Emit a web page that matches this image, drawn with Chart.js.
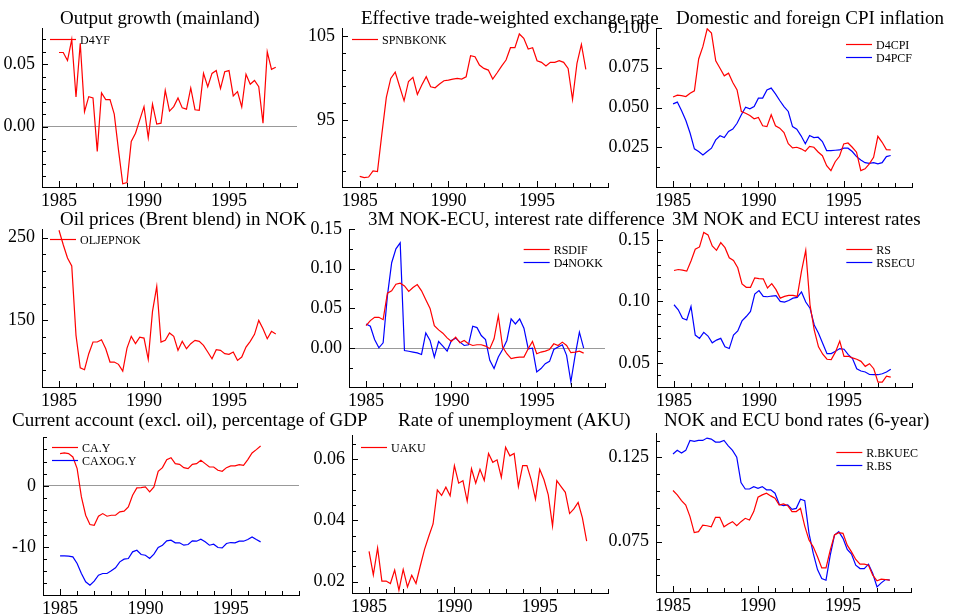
<!DOCTYPE html>
<html>
<head>
<meta charset="utf-8">
<script src="https://cdn.jsdelivr.net/npm/chart.js@4.4.1/dist/chart.umd.min.js"></script>
<style>
  html, body { margin: 0; padding: 0; background: #fff; }
  #wrap { position: relative; width: 954px; height: 616px; overflow: hidden; }
  #wrap canvas { position: absolute; left: 0; top: 0; }
</style>
</head>
<body>
<div id="wrap"></div>
<script>
// quarterly dates, 1985Q1 .. 1997Q4
const quarters = [1985, 1985.25, 1985.5, 1985.75, 1986, 1986.25, 1986.5, 1986.75,
  1987, 1987.25, 1987.5, 1987.75, 1988, 1988.25, 1988.5, 1988.75,
  1989, 1989.25, 1989.5, 1989.75, 1990, 1990.25, 1990.5, 1990.75,
  1991, 1991.25, 1991.5, 1991.75, 1992, 1992.25, 1992.5, 1992.75,
  1993, 1993.25, 1993.5, 1993.75, 1994, 1994.25, 1994.5, 1994.75,
  1995, 1995.25, 1995.5, 1995.75, 1996, 1996.25, 1996.5, 1996.75,
  1997, 1997.25, 1997.5, 1997.75];
const yearTicks = [1984, 1985, 1986, 1987, 1988, 1989, 1990, 1991, 1992, 1993, 1994, 1995, 1996, 1997, 1998, 1999];
const yearLabels = [1985, 1990, 1995];

// series
const d4yf = [0.0595, 0.0595, 0.053, 0.070, 0.0238, 0.067, 0.012, 0.024, 0.023, -0.020,
  0.027, 0.0216, 0.0216, 0.010, -0.019, -0.046, -0.045, -0.012, -0.0054, 0.0054,
  0.016, -0.009, 0.018, 0.002, 0.0027, 0.029, 0.0124, 0.016, 0.023, 0.015,
  0.014, 0.031, 0.0135, 0.013, 0.0427, 0.032, 0.0427, 0.045, 0.0305, 0.044,
  0.045, 0.0246, 0.028, 0.0157, 0.042, 0.034, 0.037, 0.032, 0.0027, 0.060,
  0.046, 0.0476];
const spnbkonk = [88.33, 88.17, 88.25, 88.97, 88.9, 93.4, 97.7, 99.96, 100.7, 99.0,
  97.3, 99.6, 100.08, 98.05, 99.17, 100.16, 98.97, 98.85, 99.29, 99.68,
  99.76, 99.88, 99.96, 99.88, 100.16, 102.66, 102.54, 101.55, 101.15, 100.95,
  99.88, 100.63, 101.43, 102.14, 103.61, 103.61, 105.24, 104.72, 103.45, 103.61,
  102.06, 101.87, 101.43, 101.87, 101.87, 102.06, 101.87, 101.15, 97.46, 101.75,
  104.0, 101.03];
const d4cpi = [0.0566, 0.0578, 0.0575, 0.0569, 0.059, 0.0605, 0.0805, 0.0884, 0.0995, 0.0968,
  0.0793, 0.0747, 0.0699, 0.0716, 0.0657, 0.0611, 0.0475, 0.0464, 0.045, 0.0429,
  0.0437, 0.0385, 0.038, 0.0454, 0.0385, 0.037, 0.0343, 0.0272, 0.0246, 0.025,
  0.024, 0.0225, 0.0256, 0.025, 0.022, 0.0197, 0.0134, 0.0103, 0.0159, 0.0193,
  0.0271, 0.0277, 0.025, 0.0219, 0.0103, 0.0114, 0.0145, 0.0187, 0.0319, 0.0281,
  0.0235, 0.0233];
const d4pcf = [0.0523, 0.0534, 0.0479, 0.0418, 0.0338, 0.024, 0.0223, 0.0202, 0.0223, 0.0244,
  0.0296, 0.0322, 0.0311, 0.0349, 0.0364, 0.0401, 0.0454, 0.0502, 0.0492, 0.0506,
  0.0559, 0.0559, 0.0611, 0.0622, 0.0586, 0.0544, 0.0506, 0.0475, 0.038, 0.0364,
  0.0322, 0.0272, 0.0324, 0.0311, 0.0313, 0.0286, 0.0229, 0.0229, 0.0231, 0.0233,
  0.0244, 0.0244, 0.0223, 0.0191, 0.017, 0.0153, 0.0149, 0.0153, 0.0145, 0.0153,
  0.0191, 0.0198];
const oljepnok = [259, 241.5, 225.4, 215.7, 131.9, 92.7, 90.3, 109.7, 123.8, 123.8,
  126.6, 115.7, 99.6, 99.6, 96.8, 88.7, 116.5, 130.6, 121.8, 129.8,
  128.6, 102.8, 160.9, 191.1, 123.8, 125.8, 134.7, 130.6, 113.7, 124.6,
  115.7, 121.8, 125.8, 124.6, 119.8, 111.7, 103.6, 114.5, 113.7, 109.7,
  108.9, 111.7, 101.6, 105.6, 117.7, 124.6, 133.1, 150, 139.9, 127.8,
  136.7, 133.5];
const rsdif = [0.0283, 0.0346, 0.0388, 0.0388, 0.0358, 0.0692, 0.0721, 0.0804, 0.0817, 0.0783,
  0.0713, 0.0763, 0.08, 0.0721, 0.0608, 0.05, 0.0283, 0.0229, 0.0188, 0.0129,
  0.0083, 0.0138, 0.0067, 0.0096, 0.0054, 0.0033, 0.0042, 0.0042, 0.0025, -0.0008,
  0.0117, 0.0408, 0.0013, -0.0071, -0.0133, -0.012, -0.0113, -0.0113, -0.0008, 0.0083,
  -0.0071, -0.005, -0.0038, -0.0017, 0.0054, 0.0033, 0.0075, 0.0033, -0.0058, -0.005,
  -0.0038, -0.0063];
const d4nokk = [0.0304, 0.0275, 0.0108, 0.0004, 0.0067, 0.0658, 0.1075, 0.125, 0.1325, -0.003,
  -0.004, -0.005, -0.006, -0.008, 0.0192, 0.0096, -0.0113, 0.0083, 0.0025, -0.0038,
  0.0096, 0.0125, 0.0075, 0.0033, 0.0042, 0.0275, 0.0258, 0.0158, 0.0108, -0.0154,
  -0.0258, -0.0113, -0.0017, 0.0096, 0.0367, 0.0304, 0.0367, 0.025, -0.0008, 0,
  -0.03, -0.0258, -0.0196, -0.0167, -0.0017, 0.0013, 0.0042, -0.0092, -0.0425, -0.0092,
  0.02, 0];
const rs = [0.1252, 0.126, 0.1255, 0.1247, 0.1329, 0.1425, 0.1444, 0.1562, 0.1542, 0.1452,
  0.1416, 0.1479, 0.1438, 0.1356, 0.1334, 0.1274, 0.1142, 0.1115, 0.1115, 0.1192,
  0.1186, 0.1184, 0.111, 0.1145, 0.1096, 0.1027, 0.1041, 0.1049, 0.1049, 0.1041,
  0.1247, 0.1416, 0.0973, 0.0767, 0.063, 0.057, 0.0529, 0.0526, 0.0589, 0.0677,
  0.0553, 0.0553, 0.054, 0.0529, 0.0512, 0.0471, 0.0493, 0.0452, 0.0342, 0.0342,
  0.0392, 0.0384];
const rsecu = [0.0973, 0.0932, 0.0863, 0.0849, 0.0959, 0.0726, 0.0699, 0.0748, 0.0718, 0.0663,
  0.0685, 0.0699, 0.063, 0.0616, 0.0726, 0.0759, 0.0841, 0.0877, 0.0918, 0.106,
  0.1088, 0.1041, 0.1038, 0.1044, 0.1047, 0.1, 0.0995, 0.1008, 0.1027, 0.1033,
  0.1077, 0.0995, 0.0945, 0.0808, 0.074, 0.0658, 0.0575, 0.0575, 0.0595, 0.0616,
  0.0611, 0.0567, 0.0534, 0.0452, 0.0433, 0.0425, 0.0405, 0.0403, 0.0403, 0.0411,
  0.0425, 0.0447];
const cay = [5.3, 5.41, 5.3, 4.75, 2.84, -1.8, -4.81, -6.34, -6.45, -4.97,
  -4.54, -4.97, -4.81, -4.81, -4.26, -4.15, -3.44, -1.53, -0.33, -0.27,
  -0.16, -0.98, -0.16, 2.4, 3.0, 4.32, 4.64, 3.66, 3.55, 3.0,
  2.84, 3.55, 3.66, 4.2, 3.66, 3.11, 3.11, 2.57, 2.4, 3.0,
  3.28, 3.28, 3.5, 3.39, 4.32, 5.41, 5.96, 6.56];
const caxogy = [-11.48, -11.48, -11.53, -11.64, -12.73, -14.37, -15.74, -16.28, -15.63, -14.64,
  -14.37, -14.37, -13.93, -13.44, -12.46, -12.02, -11.91, -10.82, -10.55, -11.26,
  -11.37, -11.91, -11.2, -10.11, -9.73, -9.02, -8.91, -9.34, -9.34, -9.73,
  -9.62, -9.02, -9.07, -8.74, -9.18, -9.73, -9.56, -10.11, -10.16, -9.45,
  -9.29, -9.34, -9.07, -9.07, -8.8, -8.36, -8.8, -9.18];
const uaku = [0.0299, 0.0222, 0.031, 0.0202, 0.0202, 0.0194, 0.0238, 0.0172, 0.024, 0.0183,
  0.0221, 0.0194, 0.0251, 0.0305, 0.0348, 0.0388, 0.0499, 0.0481, 0.0508, 0.048,
  0.0578, 0.0521, 0.0529, 0.0462, 0.0568, 0.0521, 0.0566, 0.053, 0.0618, 0.0589,
  0.0597, 0.054, 0.0638, 0.061, 0.0618, 0.051, 0.0578, 0.0578, 0.0532, 0.0469,
  0.0566, 0.0532, 0.0483, 0.0381, 0.0529, 0.051, 0.0491, 0.0422, 0.0437, 0.0458,
  0.0408, 0.0332];
const rbkuec = [0.1054, 0.1028, 0.0994, 0.0968, 0.0899, 0.0804, 0.081, 0.0849, 0.0845, 0.0839,
  0.0895, 0.0895, 0.0839, 0.0855, 0.0869, 0.0845, 0.0869, 0.0889, 0.0879, 0.0929,
  0.1014, 0.1028, 0.1038, 0.1022, 0.1008, 0.0968, 0.0974, 0.0964, 0.0929, 0.0929,
  0.0948, 0.0843, 0.076, 0.072, 0.0661, 0.0595, 0.0595, 0.07, 0.079, 0.0804,
  0.08, 0.073, 0.069, 0.0645, 0.0617, 0.0617, 0.0611, 0.0552, 0.0518, 0.0528,
  0.0526, 0.0522];
const rbs = [0.127, 0.1292, 0.1276, 0.1292, 0.1351, 0.1345, 0.1351, 0.1351, 0.1365, 0.1359,
  0.1341, 0.1341, 0.1351, 0.1319, 0.1292, 0.1252, 0.1101, 0.1063, 0.1063, 0.1077,
  0.1067, 0.1077, 0.1058, 0.1058, 0.1038, 0.0972, 0.0964, 0.0968, 0.0942, 0.0948,
  0.1002, 0.0994, 0.08, 0.0681, 0.0585, 0.0532, 0.0522, 0.0671, 0.079, 0.081,
  0.077, 0.0704, 0.0677, 0.0611, 0.0591, 0.0591, 0.0617, 0.0562, 0.0482, 0.0506,
  0.0526, 0.0522];

// y tick positions (all marks) and the labelled ones
const yTicks1 = [-0.04, -0.03, -0.02, -0.01, 0, 0.01, 0.02, 0.03, 0.04, 0.05, 0.06, 0.07];
const yMajor1 = [0, 0.05];
const yTicks2 = [89, 91, 93, 95, 97, 99, 101, 103, 105];
const yMajor2 = [95, 105];
const yTicks3 = [0.0125, 0.025, 0.0375, 0.05, 0.0625, 0.075, 0.0875, 0.1];
const yMajor3 = [0.025, 0.05, 0.075, 0.1];
const yTicks4 = [90, 110, 130, 150, 170, 190, 210, 230, 250];
const yMajor4 = [150, 250];
const yTicks5 = [-0.025, 0, 0.025, 0.05, 0.075, 0.1, 0.125, 0.15];
const yMajor5 = [0, 0.05, 0.1, 0.15];
const yTicks6 = [0.04, 0.05, 0.06, 0.07, 0.08, 0.09, 0.1, 0.11, 0.12, 0.13, 0.14, 0.15];
const yMajor6 = [0.05, 0.1, 0.15];
const yTicks7 = [-16, -14, -12, -10, -8, -6, -4, -2, 0, 2, 4, 6, 8];
const yMajor7 = [-10, 0];
const yTicks8 = [0.02, 0.025, 0.03, 0.035, 0.04, 0.045, 0.05, 0.055, 0.06, 0.065];
const yMajor8 = [0.02, 0.04, 0.06];
const yTicks9 = [0.055, 0.065, 0.075, 0.085, 0.095, 0.105, 0.115, 0.125, 0.135];
const yMajor9 = [0.075, 0.125];

const RED = '#ff0000', BLUE = '#0000ff';
const SERIF = '"Liberation Serif", "Times New Roman", serif';
const CW = 954, CH = 660;   // canvases are taller than the page so bottom labels are not clipped
Chart.defaults.font.family = SERIF;
Chart.defaults.color = '#000';

// inward tick marks, panel title and in-plot legend
const deco = {
  id: 'deco',
  afterDraw(chart, args, o) {
    const ctx = chart.ctx, a = chart.chartArea;
    const xs = chart.scales.x, ys = chart.scales.y;
    ctx.save();
    ctx.strokeStyle = '#000';
    ctx.lineWidth = 1;
    ctx.beginPath();
    xs.ticks.forEach(t => {
      const px = Math.round(xs.getPixelForValue(t.value)) + 0.5;
      const len = t.label ? 6 : 4;
      ctx.moveTo(px, a.bottom);
      ctx.lineTo(px, a.bottom - len);
    });
    ys.ticks.forEach(t => {
      const py = Math.round(ys.getPixelForValue(t.value)) + 0.5;
      const len = t.label ? 6 : 4;
      ctx.moveTo(a.left, py);
      ctx.lineTo(a.left + len, py);
    });
    ctx.stroke();

    ctx.fillStyle = '#000';
    ctx.textAlign = 'left';
    ctx.textBaseline = 'middle';
    ctx.font = '19px ' + SERIF;
    ctx.fillText(o.title, o.tx, o.ty);

    ctx.font = '12px ' + SERIF;
    const ds = chart.data.datasets;
    const tw = Math.max(...ds.map(d => ctx.measureText(d.label).width));
    const x0 = o.side === 'right' ? a.right + o.dx - tw - 30 : a.left + o.dx;
    ds.forEach((d, i) => {
      const y = Math.round(a.top + o.dy + i * 13) + 0.5;
      ctx.strokeStyle = d.borderColor;
      ctx.lineWidth = 1.2;
      ctx.beginPath();
      ctx.moveTo(x0, y);
      ctx.lineTo(x0 + 26, y);
      ctx.stroke();
      ctx.fillText(d.label, x0 + 30, y + 1);
    });
    ctx.restore();
  }
};

function near(v, list) {
  return list.some(m => Math.abs(m - v) < 1e-9);
}

function makePanel(p) {
  const cv = document.createElement('canvas');
  cv.width = CW;
  cv.height = CH;
  document.getElementById('wrap').appendChild(cv);
  const [l, t, r, b] = p.box;
  return new Chart(cv, {
    type: 'line',
    data: {
      labels: quarters,
      datasets: p.series.map(s => ({
        label: s.label, data: s.data, borderColor: s.color,
        borderWidth: 1.2, pointRadius: 0, fill: false, tension: 0
      }))
    },
    options: {
      responsive: false,
      animation: false,
      events: [],
      layout: { padding: { left: l - 60, top: t, right: CW - r, bottom: CH - b - 30 } },
      scales: {
        x: {
          type: 'linear', min: 1984, max: 1999,
          afterBuildTicks: s => { s.ticks = yearTicks.map(v => ({ value: v })); },
          afterFit: s => { s.height = 30; },
          ticks: {
            autoSkip: false, maxRotation: 0, padding: 3, font: { size: 18 },
            callback: v => yearLabels.includes(v) ? String(v) : ''
          },
          grid: { display: false, drawTicks: false, tickLength: 0 },
          border: { display: true, color: '#000', width: 1 }
        },
        y: {
          min: p.yMin, max: p.yMax,
          afterBuildTicks: s => { s.ticks = p.ticks.map(v => ({ value: v })); },
          afterFit: s => { s.width = 60; },
          ticks: {
            autoSkip: false, padding: 7, font: { size: 18 },
            callback: v => near(v, p.majors) ? v.toFixed(p.dec) : ''
          },
          grid: {
            drawTicks: false,
            color: c => (p.zero && c.tick && Math.abs(c.tick.value) < 1e-9) ? '#999' : 'rgba(0,0,0,0)'
          },
          border: { display: true, color: '#000', width: 1 }
        }
      },
      plugins: {
        legend: { display: false },
        tooltip: { enabled: false },
        deco: p.deco
      }
    },
    plugins: [deco]
  });
}

makePanel({
  box: [42, 28, 297, 187], yMin: -0.0486, yMax: 0.0792, ticks: yTicks1, majors: yMajor1, dec: 2, zero: true,
  series: [{ label: 'D4YF', data: d4yf, color: RED }],
  deco: { title: 'Output growth (mainland)', tx: 60, ty: 19, side: 'left', dx: 8, dy: 11 }
});
makePanel({
  box: [342, 28, 608, 187], yMin: 87.06, yMax: 105.95, ticks: yTicks2, majors: yMajor2, dec: 0,
  series: [{ label: 'SPNBKONK', data: spnbkonk, color: RED }],
  deco: { title: 'Effective trade-weighted exchange rate', tx: 361, ty: 19, side: 'left', dx: 10, dy: 11 }
});
makePanel({
  box: [656, 28, 912, 187], yMin: 0, yMax: 0.1, ticks: yTicks3, majors: yMajor3, dec: 3,
  series: [{ label: 'D4CPI', data: d4cpi, color: RED }, { label: 'D4PCF', data: d4pcf, color: BLUE }],
  deco: { title: 'Domestic and foreign CPI inflation', tx: 676, ty: 19, side: 'right', dx: 0, dy: 16 }
});
makePanel({
  box: [42, 229, 297, 387], yMin: 69.4, yMax: 260.5, ticks: yTicks4, majors: yMajor4, dec: 0,
  series: [{ label: 'OLJEPNOK', data: oljepnok, color: RED }],
  deco: { title: 'Oil prices (Brent blend) in NOK', tx: 60, ty: 220, side: 'left', dx: 8, dy: 10 }
});
makePanel({
  box: [349, 229, 605, 387], yMin: -0.049, yMax: 0.15, ticks: yTicks5, majors: yMajor5, dec: 2, zero: true,
  series: [{ label: 'RSDIF', data: rsdif, color: RED }, { label: 'D4NOKK', data: d4nokk, color: BLUE }],
  deco: { title: '3M NOK-ECU, interest rate difference', tx: 368, ty: 220, side: 'right', dx: -2, dy: 20 }
});
makePanel({
  box: [657, 229, 912, 387], yMin: 0.0303, yMax: 0.159, ticks: yTicks6, majors: yMajor6, dec: 2,
  series: [{ label: 'RS', data: rs, color: RED }, { label: 'RSECU', data: rsecu, color: BLUE }],
  deco: { title: '3M NOK and ECU interest rates', tx: 672, ty: 220, side: 'right', dx: 3, dy: 20 }
});
makePanel({
  box: [43, 437, 299, 595], yMin: -17.9, yMax: 8.03, ticks: yTicks7, majors: yMajor7, dec: 0, zero: true,
  series: [{ label: 'CA.Y', data: cay, color: RED }, { label: 'CAXOG.Y', data: caxogy, color: BLUE }],
  deco: { title: 'Current account (excl. oil), percentage of GDP', tx: 12, ty: 421, side: 'left', dx: 9, dy: 10 }
});
makePanel({
  box: [352, 435, 608, 593], yMin: 0.0163, yMax: 0.0678, ticks: yTicks8, majors: yMajor8, dec: 2,
  series: [{ label: 'UAKU', data: uaku, color: RED }],
  deco: { title: 'Rate of unemployment (AKU)', tx: 398, ty: 421, side: 'left', dx: 9, dy: 12 }
});
makePanel({
  box: [656, 433, 911, 592], yMin: 0.0452, yMax: 0.1395, ticks: yTicks9, majors: yMajor9, dec: 3,
  series: [{ label: 'R.BKUEC', data: rbkuec, color: RED }, { label: 'R.BS', data: rbs, color: BLUE }],
  deco: { title: 'NOK and ECU bond rates (6-year)', tx: 664, ty: 421, side: 'right', dx: 7, dy: 19 }
});
</script>
</body>
</html>
